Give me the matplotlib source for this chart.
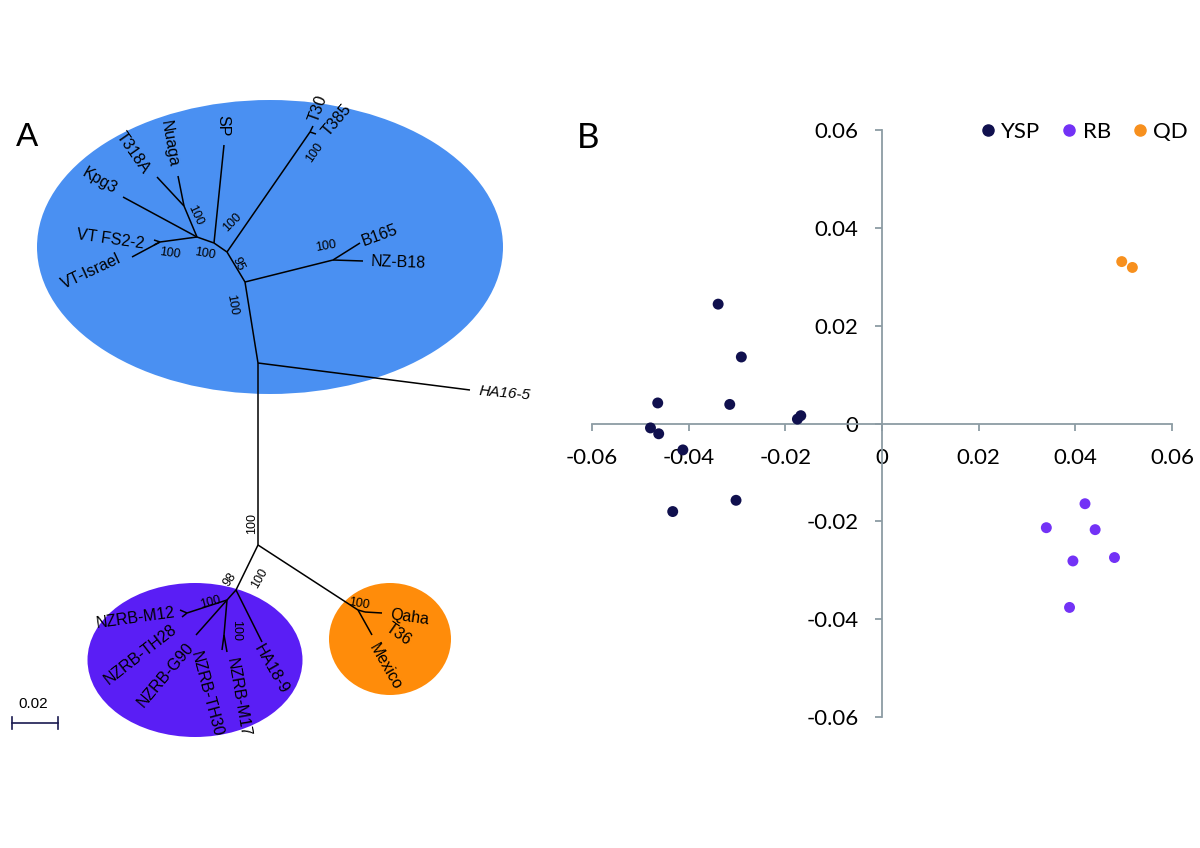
import matplotlib
matplotlib.use('Agg')
import matplotlib.pyplot as plt
from matplotlib.patches import Ellipse
from matplotlib.lines import Line2D

# ---------------- panel A: unrooted tree (layout coordinates, px-like units) ----------------
clade_colors = ['#4A90F2', '#5A1EF5', '#FF8C0A']
# clade ellipses: centre x, centre y, width, height
clade_x = [270, 195, 390]
clade_y = [247, 660, 639]
clade_w = [466, 215, 122]
clade_h = [294, 154, 112]

nodes = {
    'R1': (258, 545), 'H': (258, 363), 'HA16-5': (470, 390), 'N95': (245, 282),
    'NB': (333, 260), 'B165': (360, 243), 'NZ-B18': (363, 261),
    'NT': (227, 252), 'NT30': (310, 132), 'T30': (313, 126), 'T385': (316, 134),
    'NS': (214, 243), 'SP': (224, 145), 'N1': (197, 237), 'Kpg3': (123, 197),
    'NTN': (184, 206), 'T318A': (157, 177), 'Nuaga': (178, 176),
    'NVT': (160, 242), 'VT-Israel': (132, 257), 'VT1': (154, 240), 'VT2': (154, 245),
    'NRB': (236, 590), 'NC': (227, 600), 'HA18-9': (262, 642),
    'NM12': (187, 613), 'M12a': (180, 610), 'M12b': (182, 617), 'G90': (196, 635),
    'NM17': (224, 635), 'TH30': (222, 650), 'M17': (227, 652),
    'NQD': (358, 610), 'NQa': (365, 612), 'Qaha': (382, 613), 'Mexico': (372, 635),
}
edges = [
    ('H', 'R1'), ('H', 'HA16-5'), ('H', 'N95'), ('N95', 'NB'), ('NB', 'B165'), ('NB', 'NZ-B18'),
    ('N95', 'NT'), ('NT', 'NT30'), ('NT30', 'T30'), ('NT30', 'T385'), ('NT', 'NS'), ('NS', 'SP'),
    ('NS', 'N1'), ('N1', 'Kpg3'), ('N1', 'NTN'), ('NTN', 'T318A'), ('NTN', 'Nuaga'),
    ('N1', 'NVT'), ('NVT', 'VT-Israel'), ('NVT', 'VT1'), ('NVT', 'VT2'),
    ('R1', 'NRB'), ('NRB', 'NC'), ('NRB', 'HA18-9'), ('NC', 'NM12'), ('NM12', 'M12a'),
    ('NM12', 'M12b'), ('NC', 'G90'), ('NC', 'NM17'), ('NM17', 'TH30'), ('NM17', 'M17'),
    ('R1', 'NQD'), ('NQD', 'NQa'), ('NQa', 'Qaha'), ('NQD', 'Mexico'),
]
# taxon labels: text, x, y, rotation
taxa = [
    ('Kpg3', 100, 181, -30), ('T318A', 133, 153, -55), ('Nuaga', 169, 144, -80),
    ('SP', 223, 126, -90), ('T30', 318, 109, 70), ('T385', 337, 120, 50),
    ('VT FS2-2', 110, 239, -8), ('VT-Israel', 91, 271, 25), ('B165', 380, 235, 20),
    ('NZ-B18', 398, 262, -2), ('NZRB-M12', 136, 618, 8), ('NZRB-TH28', 141, 654, 38),
    ('NZRB-G90', 166, 675, 50), ('NZRB-TH30', 206, 694, -75), ('NZRB-M17', 238, 697, -80),
    ('HA18-9', 271, 669, -60), ('Qaha', 410, 617, -8), ('T36', 398, 634, -35),
    ('Mexico', 385, 667, -60),
]
# bootstrap values: text, x, y, rotation
boot = [
    ('100', 170, 253, -8), ('100', 205, 254, -10), ('100', 195, 215, -65),
    ('100', 232, 222, 45), ('95', 238, 264, -65), ('100', 315, 153, 55),
    ('100', 326, 246, 10), ('100', 232, 305, -80), ('100', 252, 523, 90),
    ('98', 230, 580, 55), ('100', 210, 602, 15), ('100', 236, 630, -90),
    ('100', 260, 578, 60), ('100', 359, 604, -10),
]

# ---------------- panel B: scatter ----------------
ysp_x = [-0.0339, -0.0291, -0.0464, -0.0315, -0.0175, -0.0168, -0.0479, -0.0462, -0.0412, -0.0302, -0.0433]
ysp_y = [0.0244, 0.0136, 0.0042, 0.0039, 0.0009, 0.0016, -0.0009, -0.0021, -0.0054, -0.0157, -0.0180]
rb_x = [0.0420, 0.0340, 0.0441, 0.0481, 0.0395, 0.0388]
rb_y = [-0.0164, -0.0213, -0.0217, -0.0274, -0.0281, -0.0376]
qd_x = [0.0496, 0.0518]
qd_y = [0.0331, 0.0319]
groups = ['YSP', 'RB', 'QD']
group_colors = ['#10104E', '#7332F6', '#F7901E']
ticks = [-0.06, -0.04, -0.02, 0, 0.02, 0.04, 0.06]
tick_labels = ['-0.06', '-0.04', '-0.02', '0', '0.02', '0.04', '0.06']

fig = plt.figure(figsize=(12, 8.48), dpi=100)

ax = fig.add_axes([0, 0, 1, 1])
ax.set_xlim(0, 1200)
ax.set_ylim(848, 0)
ax.axis('off')

for cx, cy, w, h, c in zip(clade_x, clade_y, clade_w, clade_h, clade_colors):
    ax.add_patch(Ellipse((cx, cy), w, h, facecolor=c, edgecolor='none', zorder=1))

for a, b in edges:
    ax.plot([nodes[a][0], nodes[b][0]], [nodes[a][1], nodes[b][1]], color='black', lw=1.1,
            solid_capstyle='butt', zorder=2)

tfont = 'Liberation Sans'
for t, x, y, r in taxa:
    ax.text(x, y, t, rotation=r, rotation_mode='anchor', ha='center', va='center',
            fontsize=11.5, family=tfont, zorder=3)
ax.text(505, 393, 'HA16-5', rotation=-5, rotation_mode='anchor', ha='center', va='center',
        fontsize=11, family=tfont, style='italic', zorder=3)
for t, x, y, r in boot:
    ax.text(x, y, t, rotation=r, rotation_mode='anchor', ha='center', va='center',
            fontsize=9, family=tfont, zorder=3)

# scale bar
ax.plot([12, 58], [723, 723], color='#1a1a50', lw=1.2)
ax.plot([12, 12], [717, 729], color='#1a1a50', lw=1.2)
ax.plot([58, 58], [717, 729], color='#1a1a50', lw=1.2)
ax.text(33, 704, '0.02', ha='center', va='center', fontsize=11, family=tfont)

ax.text(27, 137, 'A', ha='center', va='center', fontsize=24, family=tfont)
ax.text(588, 138, 'B', ha='center', va='center', fontsize=25, family='Lato')

# scatter panel
ax2 = fig.add_axes([592 / 1200, 1 - 717 / 848, 580 / 1200, 587 / 848])
ax2.patch.set_alpha(0)
axcol = '#8C9CA4'
for gx, gy, c in zip([ysp_x, rb_x, qd_x], [ysp_y, rb_y, qd_y], group_colors):
    ax2.scatter(gx, gy, s=62, color=c, edgecolors='none', zorder=3, clip_on=False)
ax2.set_xlim(-0.06, 0.06)
ax2.set_ylim(-0.06, 0.06)
ax2.spines['left'].set_position(('data', 0))
ax2.spines['bottom'].set_position(('data', 0))
ax2.spines['top'].set_visible(False)
ax2.spines['right'].set_visible(False)
for s in ['left', 'bottom']:
    ax2.spines[s].set_color(axcol)
    ax2.spines[s].set_linewidth(1.3)
ax2.set_xticks(ticks)
ax2.set_xticklabels(tick_labels)
ax2.set_yticks(ticks)
ax2.set_yticklabels(tick_labels)
ax2.tick_params(axis='x', direction='out', length=5, width=1.3, color=axcol, pad=13)
ax2.tick_params(axis='y', direction='out', length=5, width=1.3, color=axcol, pad=12)
for lab in ax2.get_xticklabels() + ax2.get_yticklabels():
    lab.set_family('Lato')
    lab.set_fontsize(16)

handles = [Line2D([], [], marker='o', ls='', color=c, markersize=8) for c in group_colors]
fig.legend(handles, groups, loc='center right', bbox_to_anchor=(1199 / 1200, 1 - 132 / 848), ncol=3,
           frameon=False, handletextpad=0.1, columnspacing=0.8, handlelength=1.0,
           borderpad=0.0, prop={'family': 'Lato', 'size': 16})

fig.savefig('out.png', dpi=100)
